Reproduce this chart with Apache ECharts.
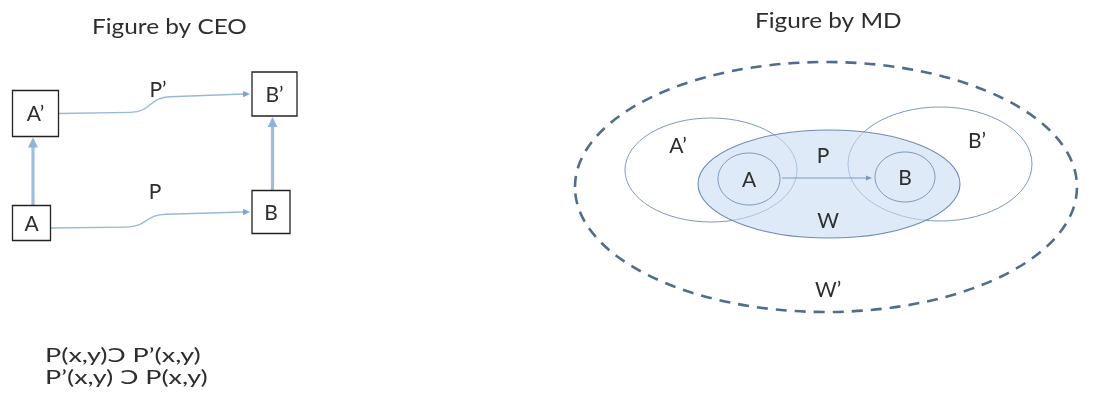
<!DOCTYPE html>
<html>
<head>
<meta charset="utf-8">
<script src="https://cdn.jsdelivr.net/npm/echarts@6/dist/echarts.min.js"></script>
<style>
html,body{margin:0;padding:0;background:#fff;}
#chart{width:1110px;height:413px;}
</style>
</head>
<body>
<div id="chart"></div>
<script>
// ---- Data (diagram coordinates in a 1110 x 413 plane, y downward) ----
const titles = ["Figure by CEO", "Figure by MD"];
const formulaLines = ["P(x,y)Ɔ P\u2019(x,y)", "P\u2019(x,y) Ɔ P(x,y)"];

// CEO figure: boxes
const boxNames = ["A\u2019", "A", "B\u2019", "B"];
const boxCx = [35.5, 31.5, 274.5, 271];
const boxCy = [113.5, 223, 94, 212];
const boxW = [46, 38, 45, 38];
const boxH = [46, 35, 44, 43];

// CEO figure: edges
const edgeFrom = ["A\u2019", "A", "A", "B"];
const edgeTo = ["B\u2019", "B", "A\u2019", "B\u2019"];
const edgeLabels = ["P\u2019", "P", "", ""];
const edgeKinds = ["curve", "curve", "thick", "thick"];
const edgeStartDy = [0, 5, 0, 0];
const edgeLabelX = [158, 155, 0, 0];
const edgeLabelY = [90, 192, 0, 0];

// MD figure: sets drawn as ellipses
const setNames = ["W\u2019", "A\u2019", "B\u2019", "W", "A", "B"];
const setCx = [826, 711, 940, 829, 749, 905];
const setCy = [187, 170, 164, 184, 179, 177];
const setRx = [251, 86, 92, 131, 31, 30];
const setRy = [125, 52, 57, 54, 26, 25];
const setStyle = ["dashed", "outline", "outline", "filled", "inner", "inner"];
const setLabelX = [828, 678, 977, 828, 749, 905];
const setLabelY = [290, 146, 141, 221, 180, 178];

// MD figure: relation arrow A -> B labeled P
const relFrom = "A", relTo = "B", relLabel = "P";
const relLabelPos = [823, 156];

// Text anchors
const titleX = [92, 755];
const titleY = [27, 21];
const formulaX = 45;
const formulaY = [356, 378];

const FONT = "Lato, 'Open Sans', sans-serif";
const TXT = '#2e2e2e';

const chart = echarts.init(document.getElementById('chart'));

function arrowHead(p, q, len, wid, color) {
  const dx = q[0] - p[0], dy = q[1] - p[1];
  const d = Math.sqrt(dx * dx + dy * dy) || 1;
  const ux = dx / d, uy = dy / d;
  const bx = q[0] - ux * len, by = q[1] - uy * len;
  return {
    type: 'polygon',
    shape: { points: [q, [bx - uy * wid, by + ux * wid], [bx + uy * wid, by - ux * wid]] },
    style: { fill: color }
  };
}
function txt(pt, str, size, sx, align) {
  return {
    type: 'text', x: pt[0], y: pt[1], scaleX: sx || 1,
    style: { text: str, x: 0, y: 0, align: align || 'center', verticalAlign: 'middle',
             font: size + 'px ' + FONT, fill: TXT }
  };
}

const boxIdx = n => boxNames.indexOf(n);
const boxData = boxNames.map((n, i) => [boxCx[i], boxCy[i], boxW[i], boxH[i]]);
const edgeData = edgeFrom.map((f, i) => [boxIdx(f), boxIdx(edgeTo[i]), i]);
const setData = setNames.map((n, i) => [setCx[i], setCy[i], setRx[i], setRy[i], i]);
const textData = [[0], [1], [2]];

const option = {
  animation: false,
  backgroundColor: '#ffffff',
  grid: { left: 0, right: 0, top: 0, bottom: 0 },
  xAxis: { type: 'value', min: 0, max: 1110, show: false },
  yAxis: { type: 'value', min: 0, max: 413, inverse: true, show: false },
  series: [
    // titles and formulas
    {
      type: 'custom',
      data: textData,
      z: 5,
      renderItem: function (params, api) {
        const k = api.value(0);
        if (k < 2) {
          return txt(api.coord([titleX[k], titleY[k]]), titles[k], 21, 1.16, 'left');
        }
        return { type: 'group', children: formulaLines.map((s, j) =>
          txt(api.coord([formulaX, formulaY[j]]), s, 19, 1.42, 'left')) };
      }
    },
    // MD: ellipses
    {
      type: 'custom',
      data: setData,
      z: 2,
      renderItem: function (params, api) {
        const i = api.value(4);
        const c = api.coord([api.value(0), api.value(1)]);
        const s = api.size([api.value(2), api.value(3)]);
        const kind = setStyle[i];
        let style;
        if (kind === 'dashed') style = { fill: 'none', stroke: '#4f6d8e', lineWidth: 2.6, lineDash: [11, 8] };
        else if (kind === 'outline') style = { fill: 'none', stroke: '#8099bb', lineWidth: 1 };
        else if (kind === 'filled') style = { fill: 'rgba(200,220,241,0.6)', stroke: '#6f8cb0', lineWidth: 1.1 };
        else style = { fill: 'none', stroke: '#8099bb', lineWidth: 1 };
        return { type: 'group', children: [
          { type: 'ellipse', shape: { cx: c[0], cy: c[1], rx: s[0], ry: s[1] }, style: style },
          txt(api.coord([setLabelX[i], setLabelY[i]]), setNames[i], 21, 1)
        ]};
      }
    },
    // MD: relation arrow
    {
      type: 'custom',
      data: [[setNames.indexOf(relFrom), setNames.indexOf(relTo)]],
      z: 3,
      renderItem: function (params, api) {
        const a = api.value(0), b = api.value(1);
        const p = api.coord([setCx[a] + setRx[a] + 2, setCy[a] - 1]);
        const q = api.coord([setCx[b] - setRx[b] - 3, setCy[a] - 1]);
        return { type: 'group', children: [
          { type: 'line', shape: { x1: p[0], y1: p[1], x2: q[0] - 5, y2: q[1] }, style: { stroke: '#8099bb', lineWidth: 1 } },
          arrowHead(p, q, 6, 2.6, '#7d98bb'),
          txt(api.coord(relLabelPos), relLabel, 21, 1)
        ]};
      }
    },
    // CEO: edges
    {
      type: 'custom',
      data: edgeData,
      z: 2,
      renderItem: function (params, api) {
        const f = api.value(0), t = api.value(1), k = api.value(2);
        if (edgeKinds[k] === 'curve') {
          const p = api.coord([boxCx[f] + boxW[f] / 2, boxCy[f] + edgeStartDy[k]]);
          const q = api.coord([boxCx[t] - boxW[t] / 2 - 2, boxCy[t]]);
          const end = [q[0] - 6, q[1]];
          const mx = p[0] + (q[0] - p[0]) * 0.49;
          const rise = p[1] - end[1];
          const a1 = [mx - 22, p[1] - rise * 0.06];
          const a2 = [mx + 18, end[1] + rise * 0.14];
          const path = 'M' + p[0] + ' ' + p[1] +
            ' L' + a1[0] + ' ' + a1[1] +
            ' C' + (a1[0] + 22) + ' ' + (a1[1] - 0.5) + ' ' + (a2[0] - 22) + ' ' + (a2[1] + 0.5) + ' ' + a2[0] + ' ' + a2[1] +
            ' L' + end[0] + ' ' + end[1];
          return { type: 'group', children: [
            { type: 'path', shape: { pathData: path }, style: { stroke: '#9ab7da', lineWidth: 1.3, fill: 'none' } },
            arrowHead(end, q, 7, 3.2, '#7ea4d2'),
            txt(api.coord([edgeLabelX[k], edgeLabelY[k]]), edgeLabels[k], 21, 1)
          ]};
        }
        const p = api.coord([boxCx[f] + 1.5, boxCy[f] - boxH[f] / 2]);
        const q = api.coord([boxCx[f] + 1.5, boxCy[t] + boxH[t] / 2 + 1]);
        return { type: 'group', children: [
          { type: 'line', shape: { x1: p[0], y1: p[1], x2: q[0], y2: q[1] + 9 }, style: { stroke: '#9dbde3', lineWidth: 3.2 } },
          arrowHead(p, q, 10, 5, '#8fb2de')
        ]};
      }
    },
    // CEO: boxes
    {
      type: 'custom',
      data: boxData,
      z: 3,
      renderItem: function (params, api) {
        const c = api.coord([api.value(0), api.value(1)]);
        const s = api.size([api.value(2), api.value(3)]);
        return { type: 'group', children: [
          { type: 'rect', shape: { x: c[0] - s[0] / 2, y: c[1] - s[1] / 2, width: s[0], height: s[1] },
            style: { fill: '#fff', stroke: '#222', lineWidth: 1.3 } },
          txt([c[0], c[1] + 1], boxNames[params.dataIndex], 21, 1)
        ]};
      }
    }
  ]
};
chart.setOption(option);
</script>
</body>
</html>
